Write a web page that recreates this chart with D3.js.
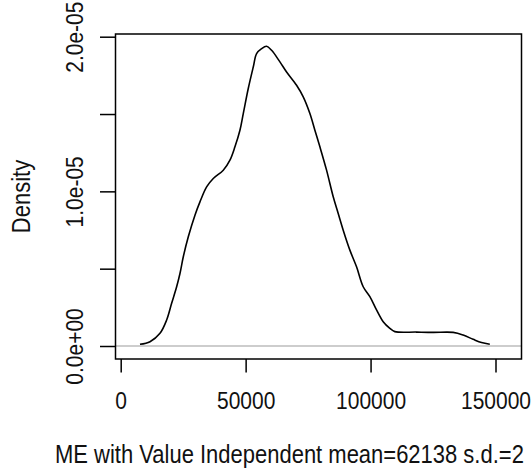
<!DOCTYPE html>
<html>
<head>
<meta charset="utf-8">
<script src="https://cdn.jsdelivr.net/npm/d3@7"></script>
<style>
  html, body { margin: 0; padding: 0; background: #fff; }
  svg { display: block; }
  text { font-family: "Liberation Sans", Arial, sans-serif; fill: #111; }
</style>
</head>
<body>
<script>
// ---- data ----
const densityX = [7720, 11720, 15720, 18387, 20387, 22387, 23720, 25053, 27053, 29720,
  31720, 34387, 37053, 41053, 43720, 45720, 47720, 49053, 51053, 53053,
  54387, 56387, 58387, 60387, 63720, 66387, 70387, 73053, 75720, 77720,
  79720, 82387, 85053, 87053, 89053, 91720, 94387, 97053, 99720, 102387,
  105053, 107720, 109720, 118387, 125053, 133053, 137053, 141053, 144387, 147720];
const densityY = [0.108, 0.28, 0.82, 1.68, 2.76, 3.83, 4.69, 5.77, 7.06, 8.46,
  9.32, 10.29, 10.83, 11.37, 12.02, 12.88, 13.95, 15.03, 16.65, 18.04,
  18.91, 19.23, 19.38, 19.12, 18.37, 17.72, 16.86, 16.11, 15.03, 13.95,
  12.88, 11.37, 9.65, 8.57, 7.49, 6.20, 5.12, 3.83, 3.19, 2.33,
  1.57, 1.14, 0.93, 0.90, 0.88, 0.88, 0.71, 0.43, 0.22, 0.108].map(v => v * 1e-6);
const xTickValues = [0, 50000, 100000, 150000];
const xTickLabels = ["0", "50000", "100000", "150000"];
const yTickValues = [0, 5e-6, 1e-5, 1.5e-5, 2e-5];
const yTickLabels = ["0.0e+00", "", "1.0e-05", "", "2.0e-05"];
const xTitle = "ME with Value Independent mean=62138 s.d.=2";
const yTitle = "Density";

// ---- layout ----
const W = 532, H = 472;
const box = { left: 115.5, right: 521.5, top: 34, bottom: 359 };
const svg = d3.select("body").append("svg").attr("width", W).attr("height", H);

const x = d3.scaleLinear().domain([0, 150000]).range([120.7, 495.5]);
const y = d3.scaleLinear().domain([0, 2e-5]).range([346, 36.7]);

// zero reference line
svg.append("line")
  .attr("x1", box.left).attr("x2", box.right)
  .attr("y1", y(0)).attr("y2", y(0))
  .attr("stroke", "#bdbdbd").attr("stroke-width", 1.3);

// density curve
const pts = densityX.map((d, i) => [d, densityY[i]]);
svg.append("path")
  .datum(pts)
  .attr("fill", "none")
  .attr("stroke", "#000")
  .attr("stroke-width", 1.6)
  .attr("stroke-linejoin", "round")
  .attr("d", d3.line().x(d => x(d[0])).y(d => y(d[1])).curve(d3.curveCatmullRom));

// box
svg.append("rect")
  .attr("x", box.left).attr("y", box.top)
  .attr("width", box.right - box.left).attr("height", box.bottom - box.top)
  .attr("fill", "none").attr("stroke", "#000").attr("stroke-width", 1.5);

// x axis
const gx = svg.append("g").attr("transform", `translate(0,${box.bottom})`)
  .call(d3.axisBottom(x).tickValues(xTickValues).tickSize(13.5)
    .tickFormat((d, i) => xTickLabels[i]));
gx.select(".domain").remove();
gx.selectAll(".tick line").attr("stroke", "#000").attr("stroke-width", 1.5);
gx.selectAll(".tick text")
  .attr("y", 0).attr("dy", 0)
  .attr("transform", "translate(0,50.3) scale(1,1.15)")
  .attr("font-size", 21).attr("fill", "#111")
  .style("font-family", '"Liberation Sans", Arial, sans-serif');

// y axis
const gy = svg.append("g").attr("transform", `translate(${box.left},0)`)
  .call(d3.axisLeft(y).tickValues(yTickValues).tickSize(15.5)
    .tickFormat((d, i) => yTickLabels[i]));
gy.select(".domain").remove();
gy.selectAll(".tick line").attr("stroke", "#000").attr("stroke-width", 1.5);
gy.selectAll(".tick text")
  .attr("x", 0).attr("y", 0).attr("dy", 0)
  .attr("text-anchor", "middle")
  .attr("transform", "translate(-32.5,0) rotate(-90) scale(1,1.15)")
  .attr("font-size", 21).attr("fill", "#111")
  .style("font-family", '"Liberation Sans", Arial, sans-serif');

// axis titles
svg.append("text")
  .attr("transform", "translate(55,463) scale(1,1.15)")
  .attr("font-size", 22)
  .text(xTitle);

svg.append("text")
  .attr("text-anchor", "middle")
  .attr("transform", `translate(30,${(box.top + box.bottom) / 2}) rotate(-90) scale(1,1.15)`)
  .attr("font-size", 22)
  .text(yTitle);
</script>
</body>
</html>
